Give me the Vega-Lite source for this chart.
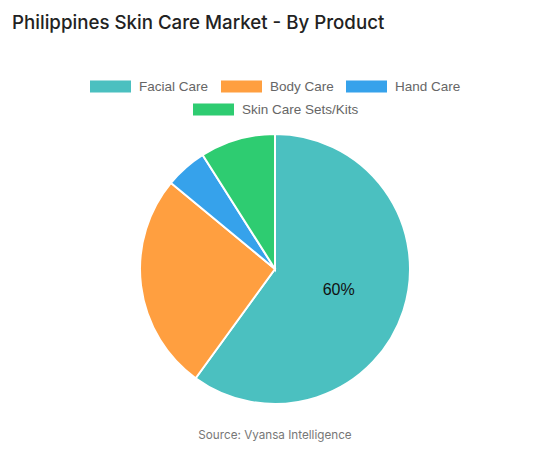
{
  "$schema": "https://vega.github.io/schema/vega-lite/v6.json",
  "padding": {"left": 12, "right": 12, "top": 14, "bottom": 5},
  "background": "#ffffff",
  "title": {"text": "Philippines Skin Care Market - By Product", "anchor": "start", "frame": "group", "font": "Inter", "fontSize": 18.7, "fontWeight": 500, "color": "#222222", "offset": 33},
  "config": {"view": {"stroke": null}, "concat": {"spacing": 0}},
  "data": {"values": [
    {"product": "Facial Care", "share": 60, "label": "60%"},
    {"product": "Body Care", "share": 26, "label": ""},
    {"product": "Hand Care", "share": 5, "label": ""},
    {"product": "Skin Care Sets/Kits", "share": 9, "label": ""}
  ]},
  "vconcat": [{
    "width": 526,
    "height": 270,
    "title": {"text": "Source: Vyansa Intelligence", "orient": "bottom", "anchor": "middle", "font": "Inter", "fontSize": 11.7, "fontWeight": "normal", "color": "#777777", "offset": 22},
    "transform": [{"window": [{"op": "row_number", "as": "idx"}]}],
    "resolve": {"scale": {"color": "independent"}, "legend": {"color": "independent"}},
    "layer": [
      {
        "mark": {"type": "arc", "stroke": "#ffffff", "strokeWidth": 2},
        "encoding": {
          "theta": {"field": "share", "type": "quantitative", "stack": true},
          "order": {"field": "idx", "type": "quantitative"},
          "color": {
            "field": "product", "type": "nominal",
            "scale": {"domain": ["Facial Care", "Body Care", "Hand Care", "Skin Care Sets/Kits"], "range": ["#4BC0C0", "#FF9F40", "#36A2EB", "#2ECC71"]},
            "legend": {"orient": "none", "legendX": 78, "legendY": -68, "direction": "horizontal", "title": null, "values": ["Facial Care", "Body Care", "Hand Care"],
              "symbolType": "M-1,-0.29H1V0.29H-1Z", "symbolSize": 1681, "symbolStrokeWidth": 0, "labelFont": "Liberation Sans", "labelFontSize": 13.5, "labelColor": "#666666", "labelOffset": 8, "columnPadding": 12, "padding": 0}
          }
        }
      },
      {
        "mark": {"type": "arc", "stroke": "#ffffff", "strokeWidth": 2},
        "encoding": {
          "theta": {"field": "share", "type": "quantitative", "stack": true},
          "order": {"field": "idx", "type": "quantitative"},
          "color": {
            "field": "product", "type": "nominal",
            "scale": {"domain": ["Facial Care", "Body Care", "Hand Care", "Skin Care Sets/Kits"], "range": ["#4BC0C0", "#FF9F40", "#36A2EB", "#2ECC71"]},
            "legend": {"orient": "none", "legendX": 181, "legendY": -45, "direction": "horizontal", "title": null, "values": ["Skin Care Sets/Kits"],
              "symbolType": "M-1,-0.29H1V0.29H-1Z", "symbolSize": 1681, "symbolStrokeWidth": 0, "labelFont": "Liberation Sans", "labelFontSize": 13.5, "labelColor": "#666666", "labelOffset": 8, "columnPadding": 12, "padding": 0}
          }
        }
      },
      {
        "mark": {"type": "text", "radius": 67, "font": "Liberation Sans", "fontSize": 16, "color": "#111111"},
        "encoding": {
          "theta": {"field": "share", "type": "quantitative", "stack": true},
          "order": {"field": "idx", "type": "quantitative"},
          "detail": {"field": "product", "type": "nominal"},
          "text": {"field": "label", "type": "nominal"}
        }
      }
    ]
  }]
}
